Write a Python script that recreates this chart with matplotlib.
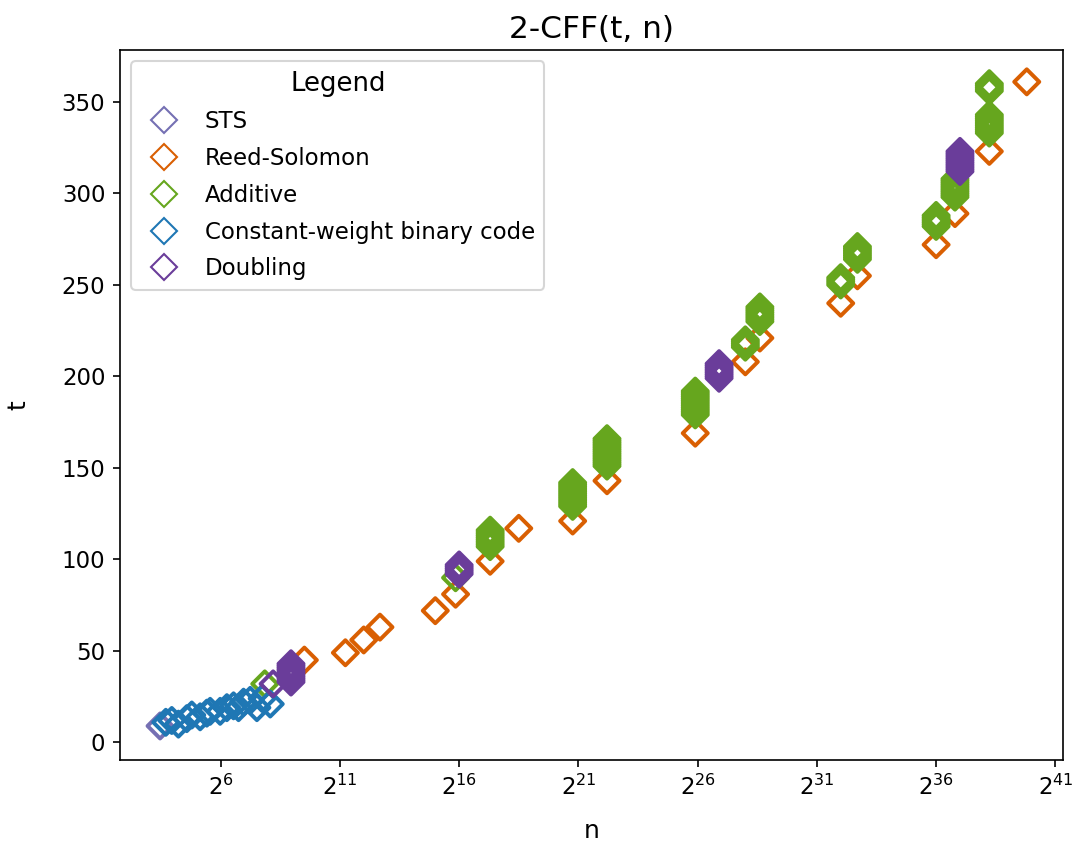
import numpy as np
import matplotlib
matplotlib.use("Agg")
import matplotlib.pyplot as plt
from matplotlib.lines import Line2D
from matplotlib.ticker import NullLocator

sts_log2n = [3.46]
sts_t = [9]

rs_log2n = [9.51, 11.23, 12.0, 12.68, 15.0, 15.85, 17.30, 18.50, 20.76, 22.20,
            25.90, 28.0, 28.61, 32.0, 32.70, 36.0, 36.79, 38.23, 39.8]
rs_t = [45, 49, 56, 63, 72, 81, 99, 117, 121, 143,
        169, 208, 221, 240, 255, 272, 289, 323, 361]

# additive: several t values for the same n
add_log2n = [7.85, 15.85, 17.30, 20.76, 22.20, 25.90, 28.0, 28.61,
             32.0, 32.70, 36.0, 36.79, 38.23, 38.23]
add_t = [
    [32],
    [90],
    [107, 108, 109, 110, 111, 112, 113, 114, 115, 116],
    [129, 130, 131, 132, 133, 134, 135, 136, 137, 138, 139, 140, 141, 142],
    [151, 152, 153, 154, 155, 156, 157, 158, 159, 160, 161, 162, 163, 164, 165, 166],
    [179, 180, 181, 182, 183, 184, 185, 186, 187, 188, 189, 190, 191, 192],
    [216, 217, 218, 219, 220],
    [230, 231, 232, 233, 234, 235, 236, 237, 238],
    [250, 251, 252, 253, 254],
    [264, 265, 266, 267, 268, 269, 270, 271],
    [282, 283, 284, 285, 286, 287, 288],
    [298, 299, 300, 301, 302, 303, 304, 305, 306, 307, 308],
    [333, 334, 335, 336, 337, 338, 339, 340, 341, 342, 343],
    [356, 357, 358, 359, 360],
]

cw_log2n = [3.70, 3.95, 4.23, 4.58, 4.79, 5.14, 5.42, 5.56, 5.98, 6.26,
            6.54, 6.75, 6.96, 7.24, 7.52, 7.74, 8.08]
cw_t = [11, 12, 10, 13, 15, 14, 16, 17, 17, 19, 20, 19, 22, 23, 19, 24, 21]

dbl_log2n = [8.2, 8.95, 16.0, 26.9, 37.0]
dbl_t = [
    [32],
    [33, 34, 35, 36, 37, 38, 39, 40, 41, 42, 43],
    [92, 93, 94, 95, 96, 97],
    [199, 200, 201, 202, 203, 204, 205, 206, 207],
    [312, 313, 314, 315, 316, 317, 318, 319, 320, 321, 322, 323],
]

labels = ["STS", "Reed-Solomon", "Additive", "Constant-weight binary code", "Doubling"]
colors = ["#7570b3", "#d95f02", "#66a61e", "#1f77b4", "#6a3d9a"]
xtick_exp = [6, 11, 16, 21, 26, 31, 36, 41]


def flat(log2n, ts):
    xs, ys = [], []
    for e, group in zip(log2n, ts):
        for t in group:
            xs.append(2.0 ** e)
            ys.append(t)
    return xs, ys


series = [
    (2.0 ** np.array(sts_log2n), sts_t),
    (2.0 ** np.array(rs_log2n), rs_t),
    flat(add_log2n, add_t),
    (2.0 ** np.array(cw_log2n), cw_t),
    flat(dbl_log2n, dbl_t),
]

fig = plt.figure(figsize=(1079 / 150, 854 / 150), dpi=150)
ax = fig.add_axes([120 / 1079, 1 - 760 / 854, 943 / 1079, 710 / 854])

for (x, y), c in zip(series, colors):
    ax.scatter(x, y, marker="D", s=72, facecolors="none", edgecolors=c, linewidths=1.9)

ax.set_xscale("log", base=2)
ax.set_xticks([2.0 ** e for e in xtick_exp])
ax.xaxis.set_minor_locator(NullLocator())
ax.set_xlim(2 ** 1.78, 2 ** 41.32)
ax.set_ylim(-9.6, 378.4)
ax.tick_params(labelsize=11)

ax.set_title("2-CFF(t, n)", fontsize=15, pad=6)
ax.set_xlabel("n", fontsize=12, labelpad=9)
ax.set_ylabel("t", fontsize=12, labelpad=15)

handles = [Line2D([], [], marker="D", ls="none", mfc="none", mec=c, ms=8.5, mew=1.0)
           for c in colors]
ax.legend(handles, labels, title="Legend", loc="upper left", fontsize=11,
          title_fontsize=12.5, labelspacing=0.6)

fig.savefig("out.png", dpi=150)
